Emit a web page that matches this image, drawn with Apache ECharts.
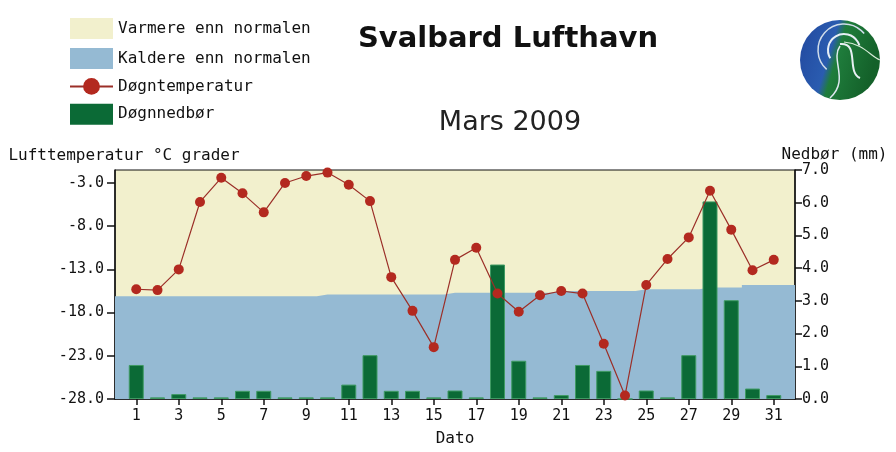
<!DOCTYPE html>
<html>
<head>
<meta charset="utf-8">
<title>Svalbard Lufthavn - Mars 2009</title>
<script src="https://cdn.jsdelivr.net/npm/echarts@6/dist/echarts.min.js"></script>
<style>
  html, body { margin: 0; padding: 0; background: #fff; }
  #chart { width: 896px; height: 452px; }
</style>
</head>
<body>
<div id="chart"></div>
<script>
// x positions 0..32, days 1..31 sit on the inner ones
const slots = ['0', '1', '2', '3', '4', '5', '6', '7', '8', '9', '10', '11', '12', '13', '14', '15', '16',
    '17', '18', '19', '20', '21', '22', '23', '24', '25', '26', '27', '28', '29', '30', '31', '32'];
const days = [1, 2, 3, 4, 5, 6, 7, 8, 9, 10, 11, 12, 13, 14, 15, 16, 17, 18, 19, 20, 21, 22, 23, 24, 25, 26, 27, 28, 29, 30, 31];

// døgntemperatur (°C)
const temperature = [-15.3, -15.4, -13.0, -5.2, -2.4, -4.2, -6.4, -3.0, -2.2, -1.8, -3.2, -5.1, -13.9, -17.8, -22.0,
    -11.9, -10.5, -15.8, -17.9, -16.0, -15.5, -15.8, -21.6, -27.6, -14.8, -11.8, -9.3, -3.9, -8.4, -13.1, -11.9];

// døgnnedbør (mm)
const precipitation = [1.04, 0.05, 0.15, 0.05, 0.05, 0.25, 0.25, 0.05, 0.05, 0.05, 0.44, 1.34, 0.25, 0.25, 0.05,
    0.26, 0.05, 4.11, 1.17, 0.05, 0.12, 1.04, 0.86, 0, 0.26, 0.05, 1.34, 6.04, 3.02, 0.32, 0.12];

// normaltemperatur, grensen mellom varmere / kaldere (slot 0..32)
const normal = [-16.1, -16.1, -16.1, -16.1, -16.1, -16.1, -16.1, -16.1, -16.1, -16.1, -15.9, -15.9, -15.9, -15.9,
    -15.9, -15.9, -15.7, -15.7, -15.7, -15.7, -15.7, -15.5, -15.5, -15.5, -15.5, -15.3, -15.3, -15.3, -15.1, -15.1,
    -14.8, -14.8, -14.8];

const tempTicks = [-28, -23, -18, -13, -8, -3];
const rainTicks = [0, 1, 2, 3, 4, 5, 6, 7];

const YELLOW = '#f2f0cd';
const BLUE = '#95bad3';
const GREEN = '#0b6a36';
const RED = '#b3291f';
const MONO = '"DejaVu Sans Mono", monospace';

const chart = echarts.init(document.getElementById('chart'));

const option = {
    animation: false,
    title: [
        {
            text: 'Svalbard Lufthavn',
            left: 503,
            top: 20,
            textAlign: 'center',
            textStyle: { fontFamily: 'DejaVu Sans', fontSize: 29, fontWeight: 'bold', color: '#111' }
        },
        {
            text: 'Mars 2009',
            left: 505,
            top: 104,
            textAlign: 'center',
            textStyle: { fontFamily: 'DejaVu Sans', fontSize: 27, fontWeight: 'normal', color: '#222' }
        }
    ],
    legend: {
        orient: 'vertical',
        left: 64,
        top: 13,
        itemWidth: 43,
        itemHeight: 21,
        itemGap: 9,
        selectedMode: false,
        textStyle: { fontFamily: MONO, fontSize: 16, color: '#111' },
        data: [
            { name: 'Varmere enn normalen', icon: 'rect' },
            { name: 'Kaldere enn normalen', icon: 'rect' },
            { name: 'Døgntemperatur' },
            { name: 'Døgnnedbør', icon: 'rect', itemStyle: { borderWidth: 0 } }
        ]
    },
    grid: {
        left: 115,
        right: 101,
        top: 170,
        bottom: 49,
        show: true,
        backgroundColor: YELLOW,
        borderColor: '#111',
        borderWidth: 1
    },
    xAxis: {
        type: 'category',
        data: slots,
        boundaryGap: false,
        name: 'Dato',
        nameLocation: 'middle',
        nameGap: 32,
        nameTextStyle: { fontFamily: MONO, fontSize: 16, color: '#111' },
        axisLine: { lineStyle: { color: '#111', width: 1.5 } },
        axisTick: {
            length: 6,
            interval: (i) => i % 2 === 1,
            lineStyle: { color: '#111', width: 1.5 }
        },
        axisLabel: {
            interval: (i) => i % 2 === 1,
            margin: 10,
            fontFamily: MONO,
            fontSize: 15,
            color: '#111'
        },
        splitLine: { show: false }
    },
    yAxis: [
        {
            type: 'value',
            min: -28,
            max: -1.5,
            interval: 5,
            name: 'Lufttemperatur °C grader',
            nameLocation: 'end',
            nameGap: 6,
            nameTextStyle: { fontFamily: MONO, fontSize: 16, color: '#111', align: 'center', padding: [0, 0, 0, 18] },
            axisLine: { show: true, lineStyle: { color: '#111', width: 1.5 } },
            axisTick: { show: true, length: 8, customValues: tempTicks, lineStyle: { color: '#111', width: 1.5 } },
            axisLabel: {
                customValues: tempTicks,
                margin: 11,
                fontFamily: MONO,
                fontSize: 15,
                color: '#111',
                formatter: (v) => (tempTicks.indexOf(v) >= 0 ? v.toFixed(1) : '')
            },
            splitLine: { show: false }
        },
        {
            type: 'value',
            min: 0,
            max: 7,
            interval: 1,
            position: 'right',
            name: 'Nedbør (mm)',
            nameLocation: 'end',
            nameGap: 6,
            nameTextStyle: { fontFamily: MONO, fontSize: 16, color: '#111', align: 'center', padding: [0, 0, 0, 79] },
            axisLine: { show: true, lineStyle: { color: '#111', width: 1.5 } },
            axisTick: { show: true, length: 7, customValues: rainTicks, lineStyle: { color: '#111', width: 1.5 } },
            axisLabel: {
                customValues: rainTicks,
                margin: 7,
                fontFamily: MONO,
                fontSize: 15,
                color: '#111',
                formatter: (v) => v.toFixed(1)
            },
            splitLine: { show: false }
        }
    ],
    series: [
        {
            // bare for legenden, det gule feltet er gridbakgrunnen
            name: 'Varmere enn normalen',
            type: 'line',
            color: YELLOW,
            data: []
        },
        {
            name: 'Kaldere enn normalen',
            type: 'line',
            color: BLUE,
            yAxisIndex: 0,
            step: 'middle',
            symbol: 'none',
            silent: true,
            z: 1,
            lineStyle: { width: 0 },
            areaStyle: { color: BLUE, opacity: 1, origin: 'start' },
            data: normal.map((v, i) => [slots[i], v])
        },
        {
            name: 'Døgnnedbør',
            type: 'bar',
            color: GREEN,
            yAxisIndex: 1,
            barWidth: 15,
            z: 2,
            itemStyle: { color: GREEN, borderColor: '#3f9a63', borderWidth: 1 },
            data: days.map((d, i) => [String(d), precipitation[i]])
        },
        {
            name: 'Døgntemperatur',
            type: 'line',
            color: RED,
            yAxisIndex: 0,
            z: 3,
            symbol: 'circle',
            symbolSize: 10,
            lineStyle: { color: '#9b2f28', width: 1.2 },
            itemStyle: { color: RED },
            data: days.map((d, i) => [String(d), temperature[i]])
        }
    ],
    graphic: [
        {
            // logo, blå/grønn globus
            type: 'group',
            left: 800,
            top: 20,
            children: [
                {
                    type: 'circle',
                    shape: { cx: 40, cy: 40, r: 40 },
                    style: {
                        fill: new echarts.graphic.LinearGradient(0, 0, 1, 0.3, [
                            { offset: 0, color: '#22489e' },
                            { offset: 0.45, color: '#2a5cb0' },
                            { offset: 0.55, color: '#1f7d3c' },
                            { offset: 1, color: '#14612a' }
                        ])
                    }
                },
                {
                    type: 'arc',
                    shape: { cx: 44, cy: 30, r: 16, startAngle: 2.6, endAngle: 6.0 },
                    style: { stroke: '#e6eef5', lineWidth: 2, fill: null }
                },
                {
                    type: 'arc',
                    shape: { cx: 44, cy: 30, r: 26, startAngle: 2.3, endAngle: 5.6 },
                    style: { stroke: '#cfdcea', lineWidth: 1.5, fill: null }
                },
                {
                    type: 'bezierCurve',
                    shape: { x1: 40, y1: 24, x2: 60, y2: 58, cpx1: 60, cpy1: 22, cpx2: 46, cpy2: 52 },
                    style: { stroke: '#e8f0f4', lineWidth: 2, fill: null }
                },
                {
                    type: 'bezierCurve',
                    shape: { x1: 30, y1: 78, x2: 40, y2: 26, cpx1: 50, cpy1: 60, cpx2: 30, cpy2: 40 },
                    style: { stroke: '#dfe9f1', lineWidth: 1.5, fill: null }
                },
                {
                    type: 'bezierCurve',
                    shape: { x1: 44, y1: 22, x2: 80, y2: 40, cpx1: 64, cpy1: 24, cpx2: 70, cpy2: 36 },
                    style: { stroke: '#d8ecd8', lineWidth: 1.2, fill: null }
                }
            ]
        }
    ]
};

chart.setOption(option);
</script>
</body>
</html>
